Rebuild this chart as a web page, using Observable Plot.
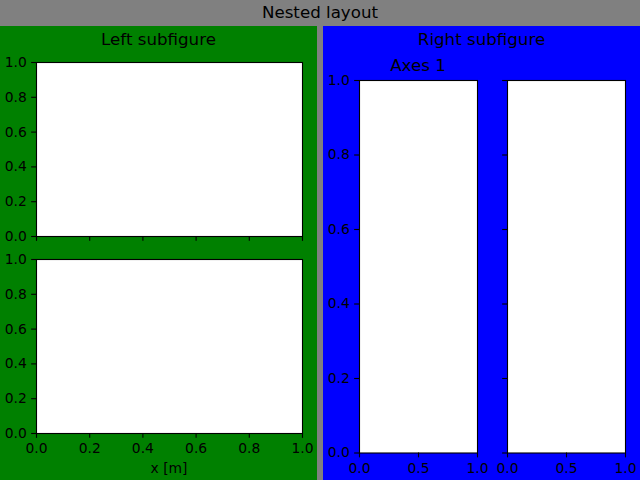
<!DOCTYPE html>
<html>
<head>
<meta charset="utf-8">
<script src="https://cdn.jsdelivr.net/npm/d3@7"></script>
<script src="https://cdn.jsdelivr.net/npm/@observablehq/plot@0.6"></script>
<style>
  html, body { margin: 0; padding: 0; background: #808080; }
  #fig { position: relative; width: 640px; height: 480px; background: #808080; overflow: hidden; font-family: "DejaVu Sans", sans-serif; }
  .panel { position: absolute; }
  .ax { position: absolute; }
</style>
</head>
<body>
<div id="fig"></div>
<script>
// ---- data ----
const domain = [0, 1];
const xTicksLeft = [0, 0.2, 0.4, 0.6, 0.8, 1.0];
const yTicks = [0, 0.2, 0.4, 0.6, 0.8, 1.0];
const xTicksRight = [0, 0.5, 1.0];
const figTitle = "Nested layout";
const leftTitle = "Left subfigure";
const rightTitle = "Right subfigure";
const axesTitle = "Axes 1";
const xLabel = "x [m]";

const fig = document.getElementById("fig");

function panel(left, top, w, h, color) {
  const d = document.createElement("div");
  d.className = "panel";
  Object.assign(d.style, {left: left + "px", top: top + "px", width: w + "px", height: h + "px", background: color});
  fig.appendChild(d);
}
panel(0, 26, 317, 454, "#008000");
panel(323, 26, 317, 454, "#0000ff");

const M = 40;
const fmt = d3.format(".1f");
function axes({x0, x1, y0, y1, xTicks, showX, showY}) {
  const w = x1 - x0, h = y1 - y0;
  const p = Plot.plot({
    width: w + 2 * M, height: h + 2 * M,
    marginLeft: M, marginRight: M, marginTop: M, marginBottom: M,
    x: {domain, label: null},
    y: {domain, label: null},
    style: {background: "transparent", overflow: "visible", fontFamily: "DejaVu Sans", fontSize: "13.89px", color: "black"},
    marks: [
      Plot.frame({fill: "white", stroke: "black", strokeWidth: 1.11}),
      Plot.axisX({ticks: xTicks, tickFormat: showX ? fmt : () => "", tickSize: 4.86, tickPadding: 4.86, strokeWidth: 1.11, label: null}),
      Plot.axisY({ticks: yTicks, tickFormat: showY ? fmt : () => "", tickSize: 4.86, tickPadding: 4.86, strokeWidth: 1.11, label: null})
    ]
  });
  p.classList.add("ax");
  p.style.left = (x0 - M) + "px";
  p.style.top = (y0 - M) + "px";
  p.style.position = "absolute";
  fig.appendChild(p);
}

axes({x0: 36, x1: 302, y0: 62, y1: 236, xTicks: xTicksLeft, showX: false, showY: true});
axes({x0: 36, x1: 302, y0: 259, y1: 433, xTicks: xTicksLeft, showX: true, showY: true});
axes({x0: 359, x1: 477, y0: 79.5, y1: 452, xTicks: xTicksRight, showX: true, showY: true});
axes({x0: 507, x1: 625, y0: 79.5, y1: 452, xTicks: xTicksRight, showX: true, showY: false});

// ---- text overlay ----
const svg = d3.select(fig).append("svg")
  .attr("width", 640).attr("height", 480)
  .style("position", "absolute").style("left", "0px").style("top", "0px")
  .style("pointer-events", "none")
  .style("font-family", "DejaVu Sans");
const texts = [
  {t: figTitle, x: 320, y: 18, s: 16.67},
  {t: leftTitle, x: 158.5, y: 44.5, s: 16.67},
  {t: rightTitle, x: 481.5, y: 44.5, s: 16.67},
  {t: axesTitle, x: 418, y: 70.5, s: 16.67},
  {t: xLabel, x: 169, y: 472.5, s: 13.89}
];
svg.selectAll("text").data(texts).join("text")
  .attr("x", d => d.x).attr("y", d => d.y)
  .attr("text-anchor", "middle")
  .attr("font-size", d => d.s)
  .attr("fill", "black")
  .text(d => d.t);
</script>
</body>
</html>
